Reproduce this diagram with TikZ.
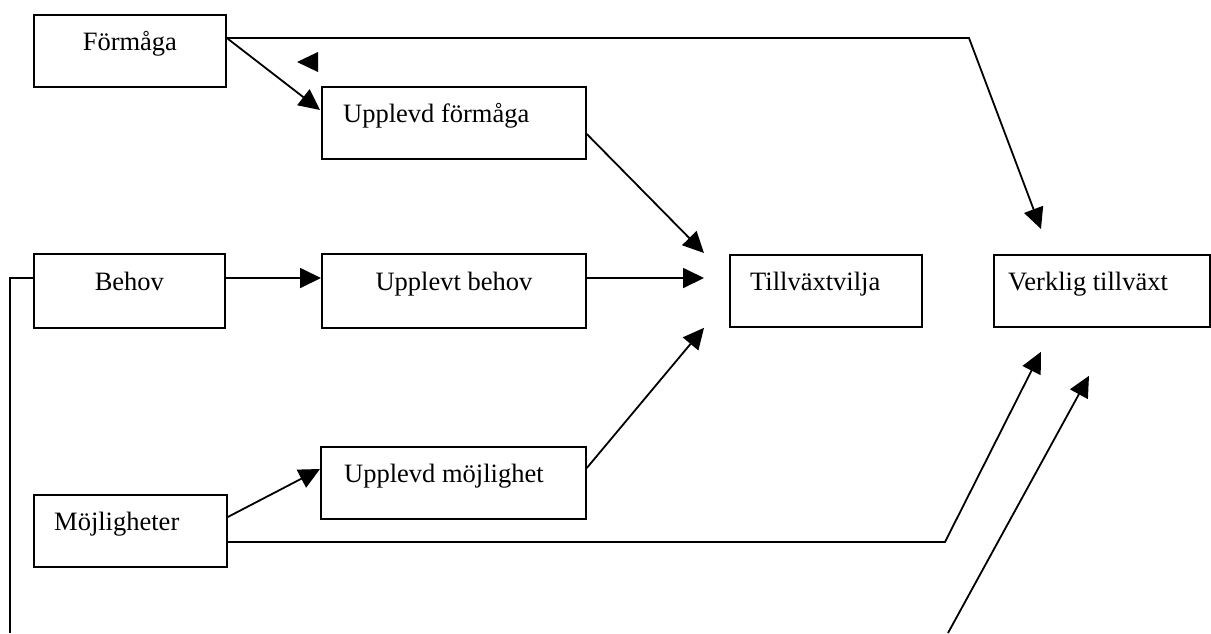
\documentclass[tikz,border=0pt]{standalone}
\usepackage{fontspec}
\setmainfont{Liberation Serif}
\usetikzlibrary{arrows.meta,calc}
\begin{document}
\begin{tikzpicture}[x=1pt,y=-1pt,
  box/.style={draw,line width=1.8pt,rectangle,inner sep=0pt,anchor=north west},
  lbl/.style={inner sep=0pt,font=\fontsize{26.5}{30}\selectfont},
  conn/.style={line width=1.8pt,-{Triangle[length=21pt,width=20pt]}},
  plain/.style={line width=1.8pt}]
\useasboundingbox (0,0) rectangle (1211,633);
% boxes
\node[box,minimum width=192,minimum height=72] (f) at (33,14) {};
\node[box,minimum width=264,minimum height=72] (uf) at (321,86) {};
\node[box,minimum width=191,minimum height=74] (b) at (33,253) {};
\node[box,minimum width=264,minimum height=74] (ub) at (321,253) {};
\node[box,minimum width=192,minimum height=72] (t) at (729,254) {};
\node[box,minimum width=216,minimum height=72] (v) at (993,254) {};
\node[box,minimum width=265,minimum height=72] (um) at (320,446) {};
\node[box,minimum width=193,minimum height=72] (m) at (33,494) {};
% labels
\node[lbl,anchor=base] at ($(f.north)+(0,36)$) {Förmåga};
\node[lbl,anchor=base west] at ($(uf.north west)+(22,36)$) {Upplevd förmåga};
\node[lbl,anchor=base] at ($(b.north)+(0,37)$) {Behov};
\node[lbl,anchor=base] at ($(ub.north)+(0,37)$) {Upplevt behov};
\node[lbl,anchor=base west] at ($(t.north west)+(21,36)$) {Tillväxtvilja};
\node[lbl,anchor=base west] at ($(v.north west)+(15,36)$) {Verklig tillväxt};
\node[lbl,anchor=base west] at ($(um.north west)+(24,36)$) {Upplevd möjlighet};
\node[lbl,anchor=base west] at ($(m.north west)+(21,36)$) {Möjligheter};
% coordinates
\coordinate (fout) at ($(f.north east)+(0,24)$);
\coordinate (fcorner) at (969,38);
\coordinate (vin1) at ($(v.north west)+(48,-25)$);
\coordinate (ufin) at ($(uf.north west)+(-1,24)$);
\coordinate (ufout) at ($(uf.north east)+(0,48)$);
\coordinate (tin1) at ($(t.north west)+(-25,-1)$);
\coordinate (bout) at ($(b.north east)+(0,25)$);
\coordinate (ubin) at ($(ub.north west)+(0,25)$);
\coordinate (ubout) at ($(ub.north east)+(0,25)$);
\coordinate (tin2) at ($(t.north west)+(-25,24)$);
\coordinate (umout) at ($(um.north east)+(0,22)$);
\coordinate (tin3) at ($(t.south west)+(-25,0)$);
\coordinate (mout1) at ($(m.north east)+(0,23)$);
\coordinate (umin) at ($(um.north west)+(0,23)$);
\coordinate (mout2) at ($(m.north east)+(0,48)$);
\coordinate (mcorner) at (945,542);
\coordinate (vin2) at ($(v.south west)+(48,24)$);
\coordinate (bleft) at ($(b.north west)+(0,25)$);
\coordinate (bcorner) at (10,278);
\coordinate (bend) at (10,633);
\coordinate (xstart) at (948,633);
\coordinate (vin3) at ($(v.south west)+(96,48)$);
% connectors
\draw[conn] (fout) -- (fcorner) -- (vin1);
\draw[conn] (fout) -- (ufin);
\fill (297,62) -- (318,52) -- (318,72) -- cycle;
\draw[conn] (ufout) -- (tin1);
\draw[conn] (bout) -- (ubin);
\draw[conn] (ubout) -- (tin2);
\draw[conn] (umout) -- (tin3);
\draw[conn] (mout1) -- (umin);
\draw[conn] (mout2) -- (mcorner) -- (vin2);
\draw[plain] (bleft) -- (bcorner) -- (bend);
\draw[conn] (xstart) -- (vin3);
\end{tikzpicture}
\end{document}
